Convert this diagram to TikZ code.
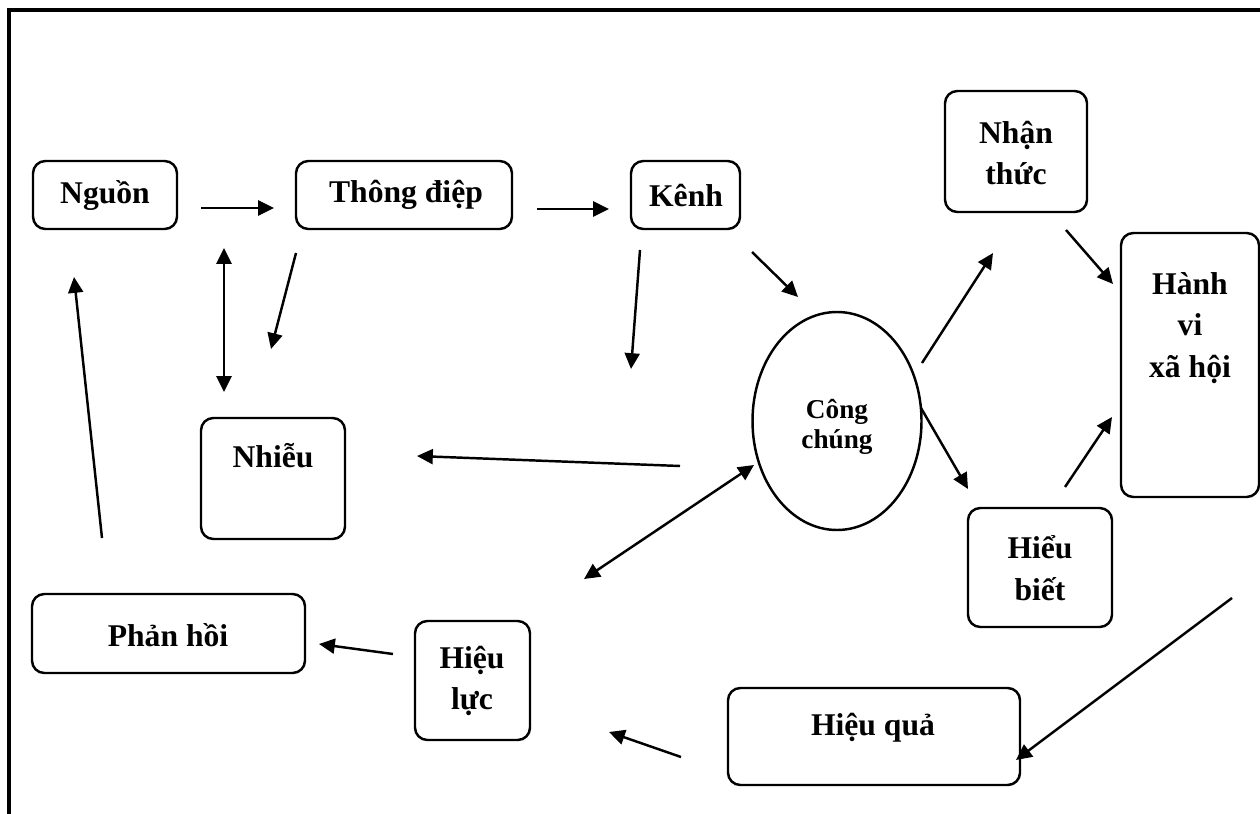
\documentclass[tikz,border=0pt]{standalone}
\usepackage{fontspec}
\setmainfont{Liberation Serif}
\usetikzlibrary{arrows.meta,fit,shapes.geometric}
\tikzset{
  box/.style={draw,line width=1.4pt,rounded corners=7pt,inner sep=0pt},
  txt/.style={font=\bfseries\fontsize{18}{23.5}\selectfont,align=center,inner sep=0pt},
  smalltxt/.style={font=\bfseries\fontsize{15.5}{17.5}\selectfont,align=center,inner sep=0pt},
  arr/.style={line width=1.4pt,-{Triangle[length=9pt,width=8.5pt]}},
  darr/.style={line width=1.4pt,{Triangle[length=9pt,width=8.5pt]}-{Triangle[length=9pt,width=8.5pt]}},
}
\begin{document}
\begin{tikzpicture}[x=0.02cm,y=-0.02cm]
\useasboundingbox (0,0) rectangle (1260,814);
% frame
\draw[line width=2.2pt] (9,814) -- (9,10) -- (1260,10);
% boxes
\node[box,fit={(33,161)(177,229)}] (nguon) {};
\node[txt] (tnguon) at (105,195) {Nguồn};
\node[box,fit={(296,161)(512,229)}] (thongdiep) {};
\node[txt] (tthongdiep) at (406,195) {Thông điệp};
\node[box,fit={(631,161)(740,229)}] (kenh) {};
\node[txt] (tkenh) at (686,195) {Kênh};
\node[box,fit={(945,91)(1087,212)}] (nhanthuc) {};
\node[txt] (tnhanthuc) at (1016,153) {Nhận\\thức};
\node[box,fit={(1121,233)(1259,497)}] (hanhvi) {};
\node[txt] (thanhvi) at (1190,328) {Hành\\vi\\xã hội};
\node[box,fit={(201,418)(345,539)}] (nhieu) {};
\node[txt] (tnhieu) at (273,456) {Nhiễu};
\node[draw,line width=1.4pt,ellipse,minimum width=169*0.02cm,minimum height=218*0.02cm,inner sep=0pt] (congchung) at (837,421) {};
\node[smalltxt] (tcongchung) at (837,427) {Công\\chúng};
\node[box,fit={(968,508)(1112,627)}] (hieubiet) {};
\node[txt] (thieubiet) at (1040,568) {Hiểu\\biết};
\node[box,fit={(32,594)(305,673)}] (phanhoi) {};
\node[txt] (tphanhoi) at (168,635) {Phản hồi};
\node[box,fit={(415,621)(530,740)}] (hieuluc) {};
\node[txt] (thieuluc) at (472,681) {Hiệu\\lực};
\node[box,fit={(728,688)(1020,785)}] (hieuqua) {};
\node[txt] (thieuqua) at (873,728) {Hiệu quả};
% connector end points
\coordinate (a1) at (201,208); \coordinate (b1) at (274,208);
\coordinate (a2) at (537,209); \coordinate (b2) at (609,209);
\coordinate (a3) at (224,248); \coordinate (b3) at (224,392);
\coordinate (a4) at (296,253); \coordinate (b4) at (271,349);
\coordinate (a5) at (640,250); \coordinate (b5) at (631,369);
\coordinate (a6) at (752,252); \coordinate (b6) at (798,297);
\coordinate (a7) at (922,363); \coordinate (b7) at (993,253);
\coordinate (a8) at (1066,230); \coordinate (b8) at (1113,284);
\coordinate (a9) at (921,408); \coordinate (b9) at (968,489);
\coordinate (a10) at (1065,487); \coordinate (b10) at (1112,417);
\coordinate (a11) at (1232,598); \coordinate (b11) at (1016,760);
\coordinate (a12) at (681,757); \coordinate (b12) at (609,732);
\coordinate (a13) at (393,654); \coordinate (b13) at (319,644);
\coordinate (a14) at (102,538); \coordinate (b14) at (74,277);
\coordinate (a15) at (680,466); \coordinate (b15) at (417,456);
\coordinate (a16) at (754,465); \coordinate (b16) at (584,579);
% connectors
\draw[arr] (a1) -- (b1);
\draw[arr] (a2) -- (b2);
\draw[darr] (a3) -- (b3);
\draw[arr] (a4) -- (b4);
\draw[arr] (a5) -- (b5);
\draw[arr] (a6) -- (b6);
\draw[arr] (a7) -- (b7);
\draw[arr] (a8) -- (b8);
\draw[arr] (a9) -- (b9);
\draw[arr] (a10) -- (b10);
\draw[arr] (a11) -- (b11);
\draw[arr] (a12) -- (b12);
\draw[arr] (a13) -- (b13);
\draw[arr] (a14) -- (b14);
\draw[arr] (a15) -- (b15);
\draw[darr] (a16) -- (b16);
\end{tikzpicture}
\end{document}
